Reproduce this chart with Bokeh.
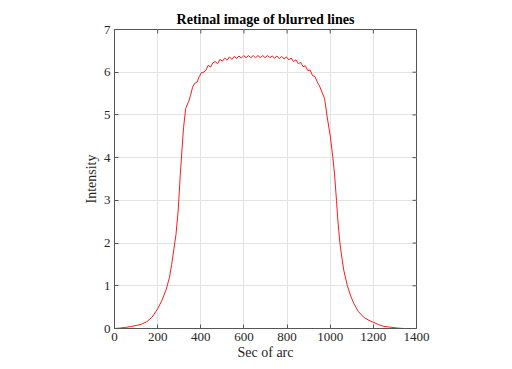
import math
from bokeh.plotting import figure
from bokeh.models import Range1d, FixedTicker
from bokeh.embed import file_html
from bokeh.resources import INLINE

# Values
x_sec = [0, 25, 50, 75, 100, 125, 150, 175, 200, 220, 240, 255, 265, 275, 285, 295,
         305, 313, 320, 330, 344, 352, 362, 372, 383, 393, 403, 414, 424, 434, 445,
         456, 467, 478, 489, 500, 511, 522, 533, 544, 555, 566, 577, 588, 599, 610,
         621, 632, 643, 654, 665, 676, 687, 698, 709, 720, 731, 742, 753, 764, 775,
         786, 797, 808, 819, 830, 841, 852, 863, 874, 885, 896, 907, 918, 929, 940,
         950, 960, 974, 986, 1001, 1012, 1020, 1029, 1036, 1045, 1055, 1063, 1079,
         1095, 1110, 1130, 1156, 1180, 1198, 1225, 1249, 1280, 1310, 1340, 1350]
intensity = [0.0, 0.01, 0.025, 0.045, 0.07, 0.10, 0.16, 0.27, 0.46, 0.66, 0.92, 1.2,
             1.5, 1.85, 2.2, 2.75, 3.6, 4.2, 4.7, 5.15, 5.32, 5.45, 5.65, 5.74, 5.77,
             5.9, 5.99, 6.0, 6.05, 6.16, 6.12, 6.22, 6.25, 6.2, 6.3, 6.26, 6.33, 6.28,
             6.36, 6.3, 6.37, 6.32, 6.38, 6.33, 6.39, 6.34, 6.39, 6.34, 6.39, 6.34,
             6.39, 6.34, 6.39, 6.34, 6.39, 6.34, 6.38, 6.33, 6.38, 6.32, 6.37, 6.31,
             6.36, 6.29, 6.33, 6.25, 6.29, 6.2, 6.23, 6.13, 6.15, 6.04, 6.05, 5.92,
             5.9, 5.77, 5.68, 5.56, 5.38, 4.95, 4.48, 4.01, 3.62, 3.0, 2.5, 2.0, 1.62,
             1.36, 1.01, 0.76, 0.58, 0.40, 0.26, 0.19, 0.15, 0.09, 0.05, 0.03, 0.01,
             0.0, -0.005]
x_ticks = [0, 200, 400, 600, 800, 1000, 1200, 1400]
y_ticks = [0, 1, 2, 3, 4, 5, 6, 7]
X_MIN, X_MAX = 0, 1400
Y_MIN, Y_MAX = 0, 7

FONT = "Liberation Serif"
AX = "#555555"
TXT = "#262626"

p = figure(width=508, height=365, x_range=Range1d(X_MIN, X_MAX), y_range=Range1d(Y_MIN, Y_MAX),
           output_backend="svg", toolbar_location=None,
           min_border_left=114, min_border_right=92, min_border_top=29, min_border_bottom=37,
           title="Retinal image of blurred lines")
p.title.text_font = FONT
p.title.text_font_size = "14px"
p.title.text_font_style = "bold"
p.title.text_color = "#000000"
p.title.align = "center"
p.title.standoff = 5
p.title.offset = 0

p.line(x_sec, intensity, line_color="#ff1a1a", line_width=1)

# inside ticks on the top and right edges of the box
p.ray(x=x_ticks, y=[Y_MAX] * len(x_ticks), length=4, length_units="screen",
      angle=-math.pi / 2, line_color=AX, line_width=1)
p.ray(x=[X_MAX] * len(y_ticks), y=y_ticks, length=4, length_units="screen",
      angle=math.pi, line_color=AX, line_width=1)

p.xaxis.ticker = FixedTicker(ticks=x_ticks)
p.yaxis.ticker = FixedTicker(ticks=y_ticks)
p.xaxis.axis_label = "Sec of arc"
p.yaxis.axis_label = "Intensity"
for ax in (p.xaxis[0], p.yaxis[0]):
    ax.axis_label_text_font = FONT
    ax.axis_label_text_font_size = "14px"
    ax.axis_label_text_font_style = "normal"
    ax.axis_label_text_color = TXT
    ax.major_label_text_font = FONT
    ax.major_label_text_font_size = "13px"
    ax.major_label_text_color = TXT
    ax.major_tick_in = 4
    ax.major_tick_out = 0
    ax.minor_tick_line_color = None
    ax.axis_line_color = AX
    ax.major_tick_line_color = AX
p.xaxis.major_label_standoff = 4
p.xaxis.axis_label_standoff = 1
p.yaxis.major_label_standoff = 4
p.yaxis.axis_label_standoff = 2

p.xgrid.grid_line_color = "#e3e3e3"
p.ygrid.grid_line_color = "#e3e3e3"
p.outline_line_color = AX
p.background_fill_color = "#ffffff"
p.border_fill_color = "#ffffff"

open("out.html", "w").write(file_html(p, INLINE))
